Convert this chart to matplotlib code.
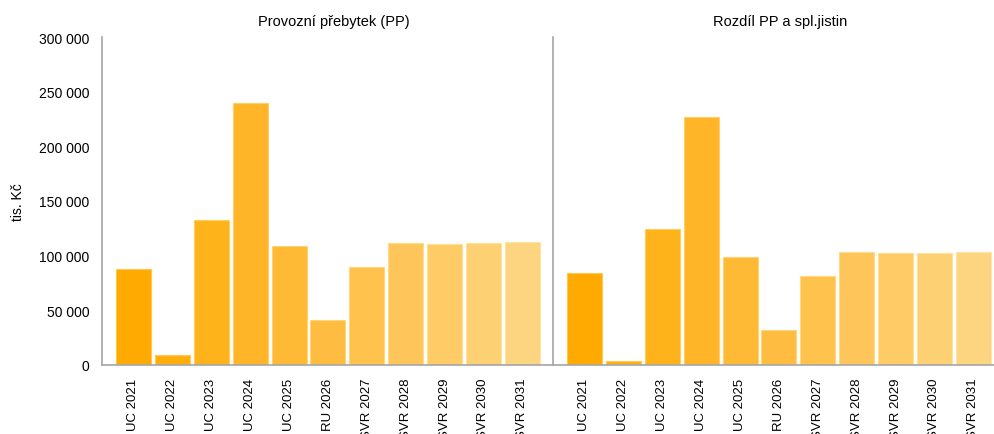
import matplotlib.pyplot as plt
from matplotlib.ticker import FuncFormatter

plt.rcParams['font.family'] = ['Liberation Sans', 'DejaVu Sans']

categories = ["UC 2021", "UC 2022", "UC 2023", "UC 2024", "UC 2025", "RU 2026",
              "SVR 2027", "SVR 2028", "SVR 2029", "SVR 2030", "SVR 2031"]
provozni_prebytek = [88000, 9500, 133000, 240000, 108500, 41000,
                     90000, 112000, 110800, 111700, 112700]
rozdil_pp_jistin = [84500, 3500, 124500, 227000, 98500, 32000,
                    81000, 103200, 102000, 102800, 103800]

panel_titles = ["Provozní přebytek (PP)", "Rozdíl PP a spl.jistin"]
ylabel = "tis. Kč"

bar_colors = ["#FFAA00", "#FFAE0B", "#FFB31A", "#FFB527", "#FEBA35", "#FEBD40",
              "#FEC24D", "#FEC65A", "#FECB67", "#FDD074", "#FDD480"]
edge_colors = ["#FFC850", "#FFCB58", "#FFCE60", "#FFD068", "#FFD370", "#FFD578",
               "#FFD880", "#FFDB88", "#FFDE90", "#FFE19A", "#FFE4A4"]

W, H = 995, 435
fig = plt.figure(figsize=(W / 100, H / 100), dpi=100)

top, bottom = 38, 366
panel_w = 451
lefts = [102, 553]

x = list(range(len(categories)))
fmt = FuncFormatter(lambda v, p: f"{int(v):,}".replace(",", " "))

for i, (vals, title) in enumerate(zip([provozni_prebytek, rozdil_pp_jistin], panel_titles)):
    ax = fig.add_axes([lefts[i] / W, (H - bottom) / H, panel_w / W, (bottom - top) / H])
    ax.bar(x, vals, width=0.9, color=bar_colors, edgecolor=edge_colors, linewidth=0.8)
    ax.set_xlim(-0.81, 10.79)
    ax.set_ylim(0, 300000)
    ax.set_yticks(range(0, 300001, 50000))
    ax.set_xticks(x)
    ax.set_xticklabels(categories, rotation=90, fontsize=9.5, color="#000000")
    ax.tick_params(axis="x", length=0, pad=9)
    for s in ["top", "right"]:
        ax.spines[s].set_visible(False)
    ax.spines["bottom"].set_color("#A6A6A6")
    ax.spines["bottom"].set_linewidth(1.2)
    ax.spines["left"].set_color("#A6A6A6")
    ax.spines["left"].set_linewidth(1.2)
    if i == 0:
        ax.yaxis.set_major_formatter(fmt)
        ax.tick_params(axis="y", length=0, pad=9, labelsize=10)
        ax.set_ylabel(ylabel, fontsize=10, labelpad=10)
    else:
        ax.tick_params(axis="y", length=0, labelleft=False)
    ax.patch.set_alpha(0)

fig.text(334 / W, (H - 22) / H, panel_titles[0], ha="center", va="center", fontsize=10.5)
fig.text(780 / W, (H - 22) / H, panel_titles[1], ha="center", va="center", fontsize=10.5)

fig.savefig("out.png", dpi=100)
